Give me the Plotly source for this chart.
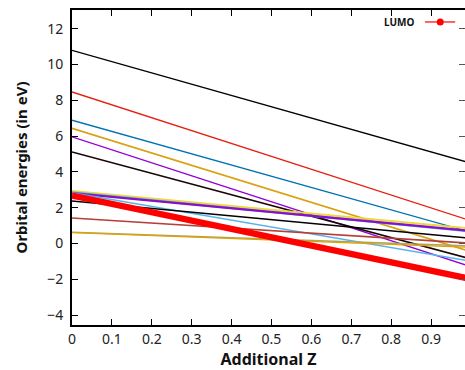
import plotly.graph_objects as go

# Additional Z values (start / end of each orbital line)
x_vals = [0.0, 1.0]

# Orbital energy series (eV) at x_vals
orb_black_top = [10.80, 4.49]
orb_red = [8.47, 1.27]
orb_teal = [6.89, 0.63]
orb_gold = [6.44, -0.46]
orb_purple = [5.96, -1.29]
orb_black_mid = [5.12, -0.86]
orb_yellow = [2.94, 0.84]
orb_purple_thick = [2.82, 0.71]
orb_lightblue_a = [2.86, 0.68]
orb_lightblue_b = [2.84, -0.99]
orb_black_low = [2.38, 0.30]
orb_brown = [1.43, 0.02]
orb_orange = [0.61, -0.21]
orb_olive = [0.63, -0.13]
lumo = [2.68, -1.98]

series = [
    (orb_black_top, "#000000", 1.3),
    (orb_red, "#e51e10", 1.3),
    (orb_teal, "#0072b2", 1.3),
    (orb_gold, "#d9a010", 1.6),
    (orb_purple, "#9400d3", 1.3),
    (orb_black_mid, "#1a0505", 1.6),
    (orb_yellow, "#ecd83a", 2.0),
    (orb_lightblue_a, "#56b4e9", 2.2),
    (orb_purple_thick, "#8a10c8", 2.2),
    (orb_lightblue_b, "#56b4e9", 1.6),
    (orb_black_low, "#000000", 1.5),
    (orb_brown, "#b5403a", 1.6),
    (orb_olive, "#a0a868", 1.6),
    (orb_orange, "#e69f00", 1.3),
]

x_ticks = [0, 0.1, 0.2, 0.3, 0.4, 0.5, 0.6, 0.7, 0.8, 0.9]
x_tick_text = ["0", "0.1", "0.2", "0.3", "0.4", "0.5", "0.6", "0.7", "0.8", "0.9"]
y_ticks = [-4, -2, 0, 2, 4, 6, 8, 10, 12]

fig = go.Figure()
for vals, col, w in series:
    fig.add_trace(go.Scatter(x=x_vals, y=vals, mode="lines",
                             line=dict(color=col, width=w), showlegend=False,
                             hoverinfo="skip"))

fig.add_trace(go.Scatter(x=x_vals, y=lumo, mode="lines", name="LUMO",
                         line=dict(color="#ff0000", width=6.2), showlegend=False))
# invisible trace on right axis for mirrored ticks
fig.add_trace(go.Scatter(x=[None], y=[None], yaxis="y2", showlegend=False))

# key (gnuplot style: text, then sample) drawn in paper coordinates
key_y = 0.962
key_x0, key_x1, key_xm = 0.898, 0.975, 0.937
shapes = [
    dict(type="line", xref="paper", yref="paper", x0=key_x0, x1=key_x1,
         y0=key_y, y1=key_y, line=dict(color="#ff3030", width=1.5)),
    dict(type="circle", xref="paper", yref="paper", xsizemode="pixel",
         ysizemode="pixel", xanchor=key_xm, yanchor=key_y,
         x0=-3.5, x1=3.5, y0=-3.5, y1=3.5,
         fillcolor="#ff0000", line=dict(color="#ff0000", width=0)),
]

font_fam = "Noto Sans, Open Sans, DejaVu Sans, sans-serif"
fig.update_layout(
    width=465, height=370,
    margin=dict(l=72, r=0, t=10, b=45),
    paper_bgcolor="white", plot_bgcolor="white",
    font=dict(family=font_fam, size=14, color="#222222"),
    showlegend=False,
    shapes=shapes,
    xaxis=dict(range=[0, 0.985], tickvals=x_ticks, ticktext=x_tick_text,
               ticks="inside", ticklen=6, tickwidth=1.2, tickcolor="#000",
               showline=True, linecolor="#000", linewidth=2,
               mirror="ticks", showgrid=False, zeroline=False,
               title=dict(text="<b>Additional Z</b>", font=dict(size=16, color="#111"),
                          standoff=6)),
    yaxis=dict(range=[-4.55, 13.05], tickvals=y_ticks,
               ticks="inside", ticklen=6, tickwidth=1.2, tickcolor="#000",
               showline=True, linecolor="#000", linewidth=2,
               mirror=False, showgrid=False, zeroline=False,
               ticklabelstandoff=4,
               title=dict(text="<b>Orbital energies (in eV)</b>",
                          font=dict(size=15, color="#111"), standoff=16)),
    yaxis2=dict(range=[-4.55, 13.05], tickvals=y_ticks, overlaying="y",
                side="right", ticks="inside", ticklen=6, tickwidth=1.2,
                tickcolor="#555", showticklabels=False, showline=False,
                showgrid=False, zeroline=False),
    annotations=[dict(text="<b>LUMO</b>", xref="paper", yref="paper",
                      x=0.875, y=key_y, xanchor="right", yanchor="middle",
                      showarrow=False, font=dict(size=10, color="#111"))],
)

fig.write_html("out.html")
